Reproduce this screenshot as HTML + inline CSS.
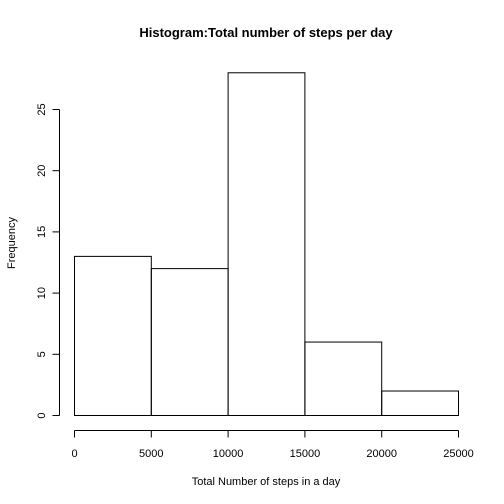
<!DOCTYPE html>
<html><head><meta charset="utf-8"><style>
html,body{margin:0;padding:0;background:#fff}
svg{display:block;font-family:"Liberation Sans",Arial,sans-serif}
</style></head><body>
<svg id="chart" width="504" height="504">
<text x="266" y="37" text-anchor="middle" font-weight="bold" font-size="13">Histogram:Total number of steps per day</text>
<text x="266" y="485" text-anchor="middle" font-size="11">Total Number of steps in a day</text>
<text transform="translate(15,243) rotate(-90)" text-anchor="middle" font-size="11">Frequency</text>
<g id="bars"></g><g id="xaxis"></g><g id="yaxis"></g>
</svg>
<script>
const breaks = [0, 5000, 10000, 15000, 20000, 25000];
const counts = [13, 12, 28, 6, 2];
const xTicks = [0, 5000, 10000, 15000, 20000, 25000];
const yTicks = [0, 5, 10, 15, 20, 25];
const NS = "http://www.w3.org/2000/svg";
function xs(v){return 74.5 + v*(458.5-74.5)/25000;}
function ys(v){return 415.5 - v*(415.5-109.5)/25;}
function mk(tag, attrs, parent){const e=document.createElementNS(NS,tag);for(const k in attrs)e.setAttribute(k,attrs[k]);parent.appendChild(e);return e;}
const bars=document.getElementById('bars');
counts.forEach((c,i)=>{
  const r=mk('rect',{x:xs(breaks[i]),y:ys(c),width:xs(breaks[i+1])-xs(breaks[i]),height:ys(0)-ys(c),fill:'none',stroke:'#000','stroke-width':1},bars);
  
  
});
const xa=document.getElementById('xaxis');


mk('line',{x1:xs(xTicks[0]),x2:xs(xTicks[xTicks.length-1]),y1:430.5,y2:430.5,stroke:'#000'},xa);
xTicks.forEach(t=>{
  mk('line',{x1:xs(t),x2:xs(t),y1:430.5,y2:437.5,stroke:'#000'},xa);
  const tx=mk('text',{x:xs(t),y:457,'text-anchor':'middle','font-size':11},xa);
  tx.textContent=t;
  
  
});
const ya=document.getElementById('yaxis');


mk('line',{x1:59.5,x2:59.5,y1:ys(yTicks[0]),y2:ys(yTicks[yTicks.length-1]),stroke:'#000'},ya);
yTicks.forEach(t=>{
  mk('line',{x1:52.5,x2:59.5,y1:ys(t),y2:ys(t),stroke:'#000'},ya);
  const tx=mk('text',{transform:'translate(45,'+ys(t)+') rotate(-90)','text-anchor':'middle','font-size':11},ya);
  tx.textContent=t;
  
  
});
</script>
</body></html>
